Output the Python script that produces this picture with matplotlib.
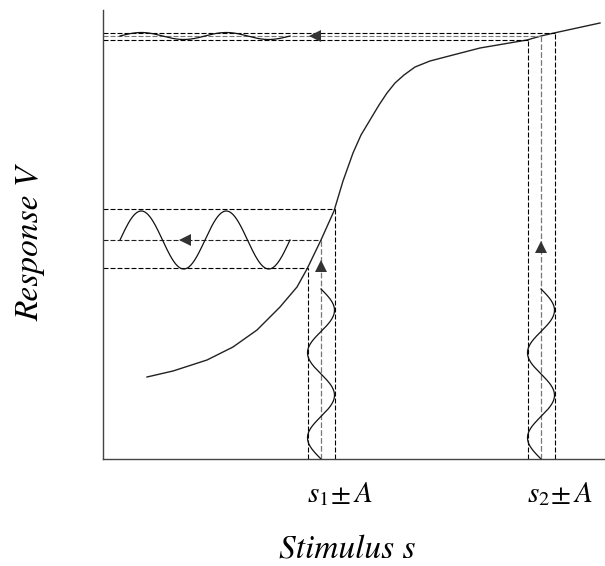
import matplotlib.pyplot as plt
import numpy as np

plt.rcParams['mathtext.fontset'] = 'stix'

# Response curve V(s)
curve_s = [44, 70, 104, 130, 154, 177, 194, 204, 218, 231, 240, 250, 258, 267,
           276, 284, 292, 301, 312, 327, 350, 377, 424, 438, 451, 497]
curve_v = [82, 88, 99, 112, 129, 152, 172, 190, 219, 248, 278, 306, 324, 339,
           354, 366, 376, 384, 392, 398, 404, 411, 419, 423, 426, 436]

# operating points: stimulus centre, stimulus amplitude, response centre, response amplitude
s_points = [218, 438]
s_amp = [13.5, 13.5]
v_points = [219, 423]
v_amp = [29, 3.5]
point_labels = [r'$s_{\mathit{1}}\!\pm A$', r'$s_{\mathit{2}}\!\pm A$']

period = 85
n_cycles = 2
wave_start = 17          # where the output wave starts on the s axis
arrow_v = [193, 212]     # height of the upward arrows
arrow_s = [82, 212]      # position of the leftward arrows

fig = plt.figure(figsize=(6.05, 5.66), dpi=100)
ax = fig.add_axes([103 / 605, 107 / 566, 502 / 605, 449 / 566])
ax.set_xlim(0, 502)
ax.set_ylim(0, 449)
for side in ['top', 'right']:
    ax.spines[side].set_visible(False)
for side in ['left', 'bottom']:
    ax.spines[side].set_color('#444444')
    ax.spines[side].set_linewidth(1.0)
ax.set_xticks([])
ax.set_yticks([])

ax.plot(curve_s, curve_v, color='#222222', lw=1.0)

dash = (0, (4.5, 1.8))
t = np.linspace(0, n_cycles * period, 300)
for i, (s0, a, v0, b, av, ah) in enumerate(zip(s_points, s_amp, v_points, v_amp, arrow_v, arrow_s)):
    lo_v = np.interp(s0 - a, curve_s, curve_v)
    hi_v = np.interp(s0 + a, curve_s, curve_v)
    # vertical guides down from the curve
    ax.plot([s0 - a, s0 - a], [0, lo_v], color='black', lw=0.8, ls=dash)
    ax.plot([s0 + a, s0 + a], [0, hi_v], color='black', lw=0.8, ls=dash)
    ax.plot([s0, s0], [0, v0], color='#777777', lw=0.9, ls=dash)
    # horizontal guides across to the response axis
    ax.plot([0, s0 - a], [lo_v, lo_v], color='black', lw=0.8, ls=dash)
    ax.plot([0, s0 + a], [hi_v, hi_v], color='black', lw=0.8, ls=dash)
    mid_col = '#222222' if i == 0 else '#777777'
    ax.plot([0, s0], [v0, v0], color=mid_col, lw=0.8, ls=dash)
    # input wave going up
    ax.plot(s0 - a * np.sin(2 * np.pi * t / period), t, color='#111111', lw=0.9)
    # output wave going left
    ax.plot(wave_start + t, v0 + b * np.sin(2 * np.pi * t / period), color='#111111', lw=0.9)
    ax.plot(s0, av, marker='^', ms=8, color='#333333', mew=0)
    ax.plot(ah, v0, marker='<', ms=8, color='#333333', mew=0)

for s0, lab in zip(s_points, point_labels):
    ax.text(s0 + 19, -43, lab, fontsize=21, ha='center', va='baseline')

ax.text(244, -98, 'Stimulus s', fontsize=24, family='STIXGeneral', style='italic',
        ha='center', va='baseline')
ax.text(-73, 216, 'Response V', fontsize=24, family='STIXGeneral', style='italic',
        ha='center', va='center', rotation=90)

fig.savefig('out.png', dpi=100)
